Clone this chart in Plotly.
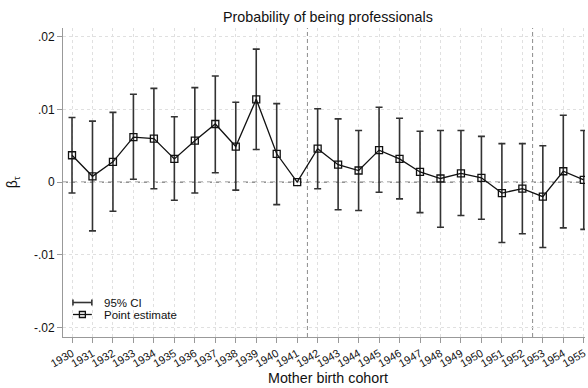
import plotly.graph_objects as go

# Event-study coefficients by mother's birth cohort (1941 = reference cohort)
cohorts = list(range(1930, 1956))
estimate = [0.0037, 0.0008, 0.0028, 0.0062, 0.0060, 0.0032, 0.0057, 0.0080, 0.0049, 0.0114,
            0.0039, 0.0000, 0.0046, 0.0024, 0.0016, 0.0044, 0.0032, 0.0014, 0.0005, 0.0012,
            0.0006, -0.0015, -0.0009, -0.0020, 0.0015, 0.0003]
ci_low = [-0.0015, -0.0067, -0.0040, 0.0004, -0.0009, -0.0025, -0.0015, 0.0013, -0.0011, 0.0045,
          -0.0031, None, -0.0009, -0.0038, -0.0039, -0.0014, -0.0023, -0.0042, -0.0062, -0.0046,
          -0.0051, -0.0083, -0.0071, -0.0090, -0.0063, -0.0065]
ci_high = [0.0089, 0.0084, 0.0096, 0.0121, 0.0129, 0.0090, 0.0130, 0.0146, 0.0110, 0.0183,
           0.0108, None, 0.0101, 0.0087, 0.0071, 0.0103, 0.0088, 0.0070, 0.0071, 0.0071,
           0.0063, 0.0053, 0.0053, 0.0050, 0.0092, 0.0071]
cutoffs = [1941.5, 1952.5]
ytick_vals = [-0.02, -0.01, 0, 0.01, 0.02]
ytick_text = ["-.02", "-.01", "0", ".01", ".02"]

FONT = "Liberation Sans, Arial, sans-serif"
W, H = 588, 388
L, R, T, B = 63, 0, 28, 51
pw, ph = W - L - R, H - T - B


def px(x):
    return (x - L) / pw


def py(y):
    return (H - B - y) / ph


# cohorts with an estimated confidence interval
ci_x, ci_y, ci_plus, ci_minus = [], [], [], []
for c, e, lo, hi in zip(cohorts, estimate, ci_low, ci_high):
    if lo is None:
        continue
    ci_x.append(c)
    ci_y.append(e)
    ci_plus.append(hi - e)
    ci_minus.append(e - lo)

fig = go.Figure()
fig.add_trace(go.Scatter(
    x=ci_x, y=ci_y, mode="markers",
    marker=dict(size=1, opacity=0),
    error_y=dict(type="data", array=ci_plus, arrayminus=ci_minus,
                 color="#333333", thickness=1.6, width=3.5),
    showlegend=False, hoverinfo="skip", cliponaxis=False,
))
fig.add_trace(go.Scatter(
    x=cohorts, y=estimate, mode="lines+markers",
    line=dict(color="#111111", width=1.3),
    marker=dict(symbol="square-open", size=7, color="#111111", line=dict(width=1.3)),
    showlegend=False,
))

shapes = [dict(type="line", xref="paper", yref="y", x0=0, x1=1, y0=0, y1=0,
               line=dict(color="#555555", width=1, dash="5px,4px"), layer="below")]
for c in cutoffs:
    shapes.append(dict(type="line", xref="x", yref="paper", x0=c, x1=c, y0=0, y1=1,
                       line=dict(color="#8c8c8c", width=1, dash="4px,3px"), layer="below"))

# legend keys
ly1, ly2 = 302.5, 314.5
x0k, x1k = 73, 92
shapes += [
    dict(type="line", xref="paper", yref="paper", x0=px(x0k), x1=px(x1k), y0=py(ly1), y1=py(ly1),
         line=dict(color="#333333", width=1.6)),
    dict(type="line", xref="paper", yref="paper", x0=px(x0k), x1=px(x0k), y0=py(ly1 - 3), y1=py(ly1 + 3),
         line=dict(color="#333333", width=1.6)),
    dict(type="line", xref="paper", yref="paper", x0=px(x1k), x1=px(x1k), y0=py(ly1 - 3), y1=py(ly1 + 3),
         line=dict(color="#333333", width=1.6)),
    dict(type="line", xref="paper", yref="paper", x0=px(x0k), x1=px(x1k), y0=py(ly2), y1=py(ly2),
         line=dict(color="#111111", width=1.3)),
    dict(type="rect", xref="paper", yref="paper", x0=px(79.5), x1=px(85.5), y0=py(ly2 - 3), y1=py(ly2 + 3),
         line=dict(color="#111111", width=1.3), fillcolor="rgba(0,0,0,0)"),
]

annotations = [
    dict(text="Probability of being professionals", xref="paper", yref="paper",
         x=px(329.5), y=py(17), xanchor="center", yanchor="middle", showarrow=False,
         font=dict(size=14.3, color="#111111", family=FONT)),
    dict(text="Mother birth cohort", xref="paper", yref="paper",
         x=px(329.5), y=py(377.5), xanchor="center", yanchor="middle", showarrow=False,
         font=dict(size=14.3, color="#111111", family=FONT)),
    dict(text="β<sub>τ</sub>", xref="paper", yref="paper", textangle=-90,
         x=px(13), y=py(182), xanchor="center", yanchor="middle", showarrow=False,
         font=dict(size=14, color="#111111", family=FONT)),
    dict(text="95% CI", xref="paper", yref="paper", x=px(102), y=py(ly1),
         xanchor="left", yanchor="middle", showarrow=False,
         font=dict(size=11.5, color="#111111", family=FONT)),
    dict(text="Point estimate", xref="paper", yref="paper", x=px(102), y=py(ly2),
         xanchor="left", yanchor="middle", showarrow=False,
         font=dict(size=11.5, color="#111111", family=FONT)),
]

fig.update_layout(
    width=W, height=H,
    margin=dict(l=L, r=R, t=T, b=B, pad=0),
    paper_bgcolor="white", plot_bgcolor="white",
    font=dict(family=FONT, color="#111111"),
    shapes=shapes, annotations=annotations,
    showlegend=False,
)
fig.update_xaxes(
    range=[1929.56, 1955.06], tickmode="array", tickvals=cohorts,
    ticktext=[str(c) for c in cohorts], tickangle=-30,
    tickfont=dict(size=11, color="#111111"),
    ticklabeloverflow="allow",
    ticks="outside", ticklen=5, tickcolor="#999999",
    showline=True, linecolor="#999999", linewidth=1,
    showgrid=True, gridcolor="#e0e0e0", gridwidth=1, griddash="dot",
    zeroline=False,
)
fig.update_yaxes(
    range=[-0.02131, 0.02121], tickmode="array", tickvals=ytick_vals, ticktext=ytick_text,
    tickfont=dict(size=12, color="#111111"),
    ticks="outside", ticklen=5, tickcolor="#999999",
    showline=True, linecolor="#999999", linewidth=1,
    showgrid=True, gridcolor="#e0e0e0", gridwidth=1, griddash="dot",
    zeroline=False,
)

fig.write_html("out.html")
